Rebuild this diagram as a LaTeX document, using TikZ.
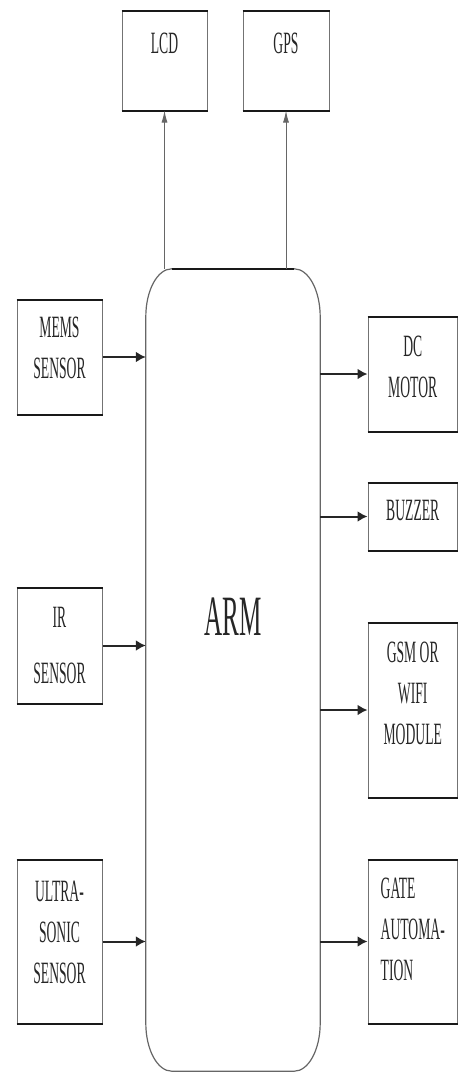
\documentclass[tikz,border=0pt]{standalone}
\usepackage{fontspec}
\setmainfont{Liberation Serif}[FakeStretch=0.44]
\usetikzlibrary{arrows.meta}

\begin{document}
\begin{tikzpicture}[
    x=1pt, y=1pt,
    blk/.style={draw=black!55, line width=1pt, align=center, inner sep=0pt,
        text=black!85, font=\fontsize{31}{41}\selectfont},
    hline/.style={line width=2pt, black!90},
    arr/.style={-{Latex[length=10pt,width=11pt]}, line width=2pt, black!85},
    uparr/.style={-{Latex[length=12pt,width=6pt]}, line width=1pt, black!60}
]
\useasboundingbox (0,0) rectangle (459,-1073);

\node[
    minimum width=174pt,
    minimum height=802pt,
    inner sep=0pt,
    text depth=106pt,
    text=black!85,
    font=\fontsize{57}{60}\selectfont
] (arm) at (233,-670) {ARM};
\draw[black!60, line width=1.2pt] ([xshift=26pt]arm.north west) -- ([xshift=-26pt]arm.north east)
    arc[start angle=90, end angle=0, x radius=26pt, y radius=48pt]
    -- ([yshift=48pt]arm.south east)
    arc[start angle=0, end angle=-90, x radius=26pt, y radius=48pt]
    -- ([xshift=26pt]arm.south west)
    arc[start angle=270, end angle=180, x radius=26pt, y radius=48pt]
    -- ([yshift=-48pt]arm.north west)
    arc[start angle=180, end angle=90, x radius=26pt, y radius=48pt] -- cycle;
\draw[hline] ([xshift=26pt]arm.north west) -- ([xshift=-26pt]arm.north east);

\node[blk, minimum width=85pt, minimum height=98pt, text depth=36pt] (lcd) at (164.5,-61) {LCD};
\node[blk, minimum width=86pt, minimum height=98pt, text depth=36pt] (gps) at (286,-61) {GPS};

\node[blk, minimum width=85pt, minimum height=114pt, text depth=18pt] (mems) at (59.5,-357) {MEMS\\SENSOR};
\node[blk, minimum width=85pt, minimum height=115pt, text depth=0pt] (ir) at (59.5,-645.5) {IR\\[15pt]SENSOR};
\node[blk, minimum width=85pt, minimum height=163pt, text depth=18pt] (ultra) at (59.5,-941.5) {ULTRA-\\SONIC\\SENSOR};

\node[blk, minimum width=89.5pt, minimum height=114pt, text depth=14pt] (dcm) at (412.75,-374) {DC\\MOTOR};
\node[blk, minimum width=89.5pt, minimum height=67pt, text depth=12pt] (buzzer) at (412.75,-516.5) {BUZZER};
\node[blk, minimum width=89.5pt, minimum height=174pt, text depth=34pt] (gsm) at (412.75,-710) {GSM OR\\WIFI\\MODULE};
\node[blk, align=left, minimum width=89.5pt, minimum height=163pt, text depth=24pt] (gate) at (412.75,-941.5) {GATE\\AUTOMA-\\TION};

\foreach \n in {lcd,gps,mems,ir,ultra,dcm,buzzer,gsm,gate}
    \draw[hline] (\n.north west) -- (\n.north east) (\n.south west) -- (\n.south east);

\draw[uparr] (lcd.south |- arm.north) -- (lcd.south);
\draw[uparr] (gps.south |- arm.north) -- (gps.south);

\draw[arr] (mems.east) -- (mems.east -| arm.west);
\draw[arr] (ir.east) -- (ir.east -| arm.west);
\draw[arr] (ultra.east) -- (ultra.east -| arm.west);

\draw[arr] (arm.east |- dcm.west) -- (dcm.west);
\draw[arr] (arm.east |- buzzer.west) -- (buzzer.west);
\draw[arr] (arm.east |- gsm.west) -- (gsm.west);
\draw[arr] (arm.east |- gate.west) -- (gate.west);

\end{tikzpicture}
\end{document}
